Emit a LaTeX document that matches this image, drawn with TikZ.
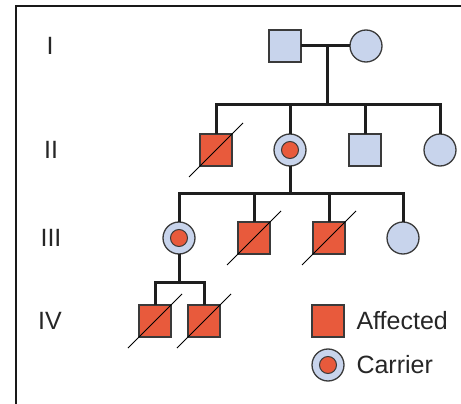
\documentclass[tikz,border=0pt]{standalone}
\usepackage{fontspec}
\setmainfont{Liberation Sans}
\usetikzlibrary{calc}
\definecolor{unaff}{HTML}{C8D4EC}
\definecolor{aff}{HTML}{E85A3C}
\definecolor{edge}{HTML}{3A3A3A}
\definecolor{link}{HTML}{1E1E1E}
\begin{document}
\begin{tikzpicture}[x=1pt,y=-1pt,
  sym/.style={draw=edge,line width=1.3pt,inner sep=0pt,outer sep=0pt,minimum size=32pt},
  male/.style={sym,rectangle,fill=unaff},
  female/.style={sym,circle,fill=unaff},
  affm/.style={sym,rectangle,fill=aff},
  carrier/.style={sym,circle,fill=unaff},
  dot/.style={draw=edge,line width=1pt,circle,fill=aff,inner sep=0pt,minimum size=17pt},
  link/.style={draw=link,line width=3pt},
  gen/.style={font=\fontsize{25}{29}\selectfont,text=black!85},
  legtext/.style={font=\fontsize{25}{29}\selectfont,text=black!85,anchor=west}]
\useasboundingbox (0,0) rectangle (461,404);
% frame
\draw[line width=2pt,black!90] (16,404) -- (16,6) -- (461,6);

% generation labels
\node[gen] (gI) at (50,46) {I};
\node[gen] (gII) at (51,150) {II};
\node[gen] (gIII) at (51,238) {III};
\node[gen] (gIV) at (50,321) {IV};

% generation I
\node[male] (i1) at (285,46) {};
\node[female] (i2) at (366,46) {};
\coordinate (m1) at (327,46);
\coordinate (s2) at (327,105);

% generation II
\node[affm] (ii1) at (216,150) {};
\node[carrier] (ii2) at (290,150) {};
\node[dot] (ii2d) at (ii2) {};
\node[male] (ii3) at (365,150) {};
\node[female] (ii4) at (440,150) {};
\coordinate (s3) at (290,193);

% generation III
\node[carrier] (iii1) at (179,238) {};
\node[dot] (iii1d) at (iii1) {};
\node[affm] (iii2) at (254,238) {};
\node[affm] (iii3) at (329,238) {};
\node[female] (iii4) at (403,238) {};
\coordinate (s4) at (179,282);

% generation IV
\node[affm] (iv1) at (155,321) {};
\node[affm] (iv2) at (204,321) {};

% lines of descent
\draw[link] (i1.east) -- (i2.west);
\draw[link] (m1) -- (s2);
\draw[link] (ii1.north) |- (s2) -| (ii4.north);
\draw[link] (ii2.north) -- (ii2.north |- s2);
\draw[link] (ii3.north) -- (ii3.north |- s2);
\draw[link] (ii2.south) -- (s3);
\draw[link] (iii1.north) |- (s3) -| (iii4.north);
\draw[link] (iii2.north) -- (iii2.north |- s3);
\draw[link] (iii3.north) -- (iii3.north |- s3);
\draw[link] (iii1.south) -- (s4);
\draw[link] (iv1.north) |- (s4) -| (iv2.north);

% deceased
\foreach \n in {ii1,iii2,iii3,iv1,iv2}
  \draw[black,line width=0.9pt] ($(\n.center)+(-27,27)$) -- ($(\n.center)+(27,-27)$);

% legend
\node[affm] (la) at (328,321) {};
\node[legtext] (lat) at (353,321) {Affected};
\node[carrier] (lc) at (328,365) {};
\node[dot] (lcd) at (lc) {};
\node[legtext] (lct) at (353,365) {Carrier};
\end{tikzpicture}
\end{document}
